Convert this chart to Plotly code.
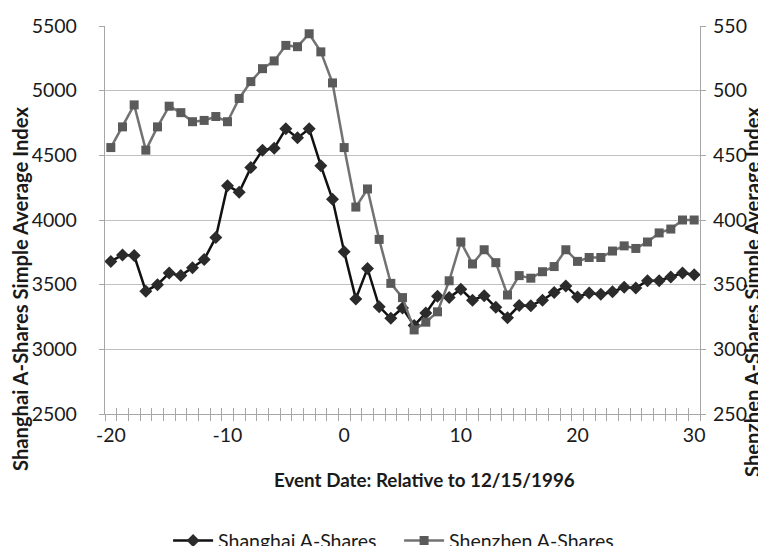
import plotly.graph_objects as go

event_days = list(range(-20, 31))
shanghai = [3680, 3730, 3725, 3450, 3500, 3590, 3570, 3630, 3695, 3865,
            4265, 4215, 4405, 4540, 4555, 4705, 4635, 4705, 4420, 4160,
            3755, 3390, 3625, 3330, 3240, 3320, 3185, 3280, 3410, 3400,
            3465, 3380, 3415, 3325, 3245, 3338, 3337, 3380, 3440, 3490,
            3405, 3435, 3425, 3445, 3480, 3475, 3530, 3530, 3560, 3590, 3577]
shenzhen = [456, 472, 489, 454, 472, 488, 483, 476, 477, 480,
            476, 494, 507, 517, 523, 535, 534, 544, 530, 506,
            456, 410, 424, 385, 351, 340, 315, 321, 329, 353,
            383, 366, 377, 367, 342, 357, 355, 360, 364, 377,
            368, 371, 371, 376, 380, 378, 383, 390, 393, 400, 400]
x_tick_vals = [-20, -10, 0, 10, 20, 30]
x_tick_text = ["-20", "-10", "0", "10", "20", "30"]
left_ticks = [2500, 3000, 3500, 4000, 4500, 5000, 5500]
right_ticks = [250, 300, 350, 400, 450, 500, 550]
boundaries = [d - 0.5 for d in event_days] + [event_days[-1] + 0.5]

FONT = "Lato"
GRID = "#c0c0c0"
AXIS = "#a6a6a6"
TXT = "#1a1a1a"
FS = 19.5

fig = go.Figure()
fig.add_trace(go.Scatter(
    x=event_days, y=shanghai, name="Shanghai A-Shares", mode="lines+markers",
    line=dict(color="#111111", width=2.5),
    marker=dict(symbol="diamond", size=10, color="#2b2b2b"),
    xaxis="x", yaxis="y"))
fig.add_trace(go.Scatter(
    x=event_days, y=shenzhen, name="Shenzhen A-Shares", mode="lines+markers",
    line=dict(color="#727272", width=2.5),
    marker=dict(symbol="square", size=9, color="#5a5a5a"),
    xaxis="x", yaxis="y2"))
# dummy traces so the tick-mark overlay axes are drawn
fig.add_trace(go.Scatter(x=[None], y=[None], xaxis="x3", yaxis="y",
                         showlegend=False, hoverinfo="skip"))
fig.add_trace(go.Scatter(x=[None], y=[None], xaxis="x4", yaxis="y",
                         showlegend=False, hoverinfo="skip"))

xr = [event_days[0] - 0.5, event_days[-1] + 0.5]
tickfont = dict(family=FONT, size=FS, color=TXT)
vtitlefont = dict(family=FONT, size=20.2, color=TXT)
xtitlefont = dict(family=FONT, size=18.8, color=TXT)

fig.update_layout(
    width=766, height=546,
    margin=dict(l=97, r=74, t=18, b=140, autoexpand=False),
    paper_bgcolor="white", plot_bgcolor="white",
    font=dict(family=FONT, size=FS, color=TXT),
    showlegend=True,
    legend=dict(orientation="h", x=0.209, xanchor="left", xref="container",
                y=-0.327, yanchor="middle",
                font=dict(family=FONT, size=FS, color=TXT),
                itemwidth=40, entrywidth=176, tracegroupgap=0),
    xaxis=dict(range=xr, tickvals=x_tick_vals, ticktext=x_tick_text, ticks="",
               showgrid=False, showline=True, linecolor=AXIS, linewidth=1.3,
               tickfont=tickfont, ticklabelstandoff=3, zeroline=False),
    xaxis3=dict(range=xr, overlaying="x", anchor="y", tickvals=boundaries,
                ticks="outside", ticklen=6, tickcolor=AXIS, tickwidth=1,
                showticklabels=False, showgrid=False, showline=False,
                zeroline=False),
    xaxis4=dict(range=xr, overlaying="x", anchor="y", tickvals=boundaries,
                ticks="inside", ticklen=6, tickcolor=AXIS, tickwidth=1,
                showticklabels=False, showgrid=False, showline=False,
                zeroline=False),
    yaxis=dict(range=[2500, 5500], tickvals=left_ticks, showgrid=True,
               gridcolor=GRID, gridwidth=1.3, showline=True, linecolor=AXIS,
               linewidth=1.3, ticks="outside", ticklen=5, tickcolor=AXIS,
               tickfont=tickfont, ticklabelstandoff=18, zeroline=False),
    yaxis2=dict(range=[250, 550], tickvals=right_ticks, overlaying="y",
                side="right", showgrid=False, showline=True, linecolor=AXIS,
                linewidth=1.3, ticks="outside", ticklen=5, tickcolor=AXIS,
                tickfont=tickfont, ticklabelstandoff=3, zeroline=False),
    annotations=[
        dict(text="<b>Shanghai A-Shares Simple Average Index</b>",
             xref="paper", yref="paper", x=(12 - 97) / 595, y=(406 - 281) / 388,
             textangle=-90, showarrow=False, xanchor="center", yanchor="middle",
             font=vtitlefont),
        dict(text="<b>Shenzhen A-Shares Simple Average Index</b>",
             xref="paper", yref="paper", x=(744 - 97) / 595, y=(406 - 284) / 388,
             textangle=-90, showarrow=False, xanchor="center", yanchor="middle",
             font=vtitlefont),
        dict(text="<b>Event Date: Relative to 12/15/1996</b>",
             xref="paper", yref="paper", x=(416 - 97) / 595, y=(406 - 471) / 388,
             showarrow=False, xanchor="center", yanchor="middle",
             font=xtitlefont),
    ],
)

fig.write_html("out.html")
